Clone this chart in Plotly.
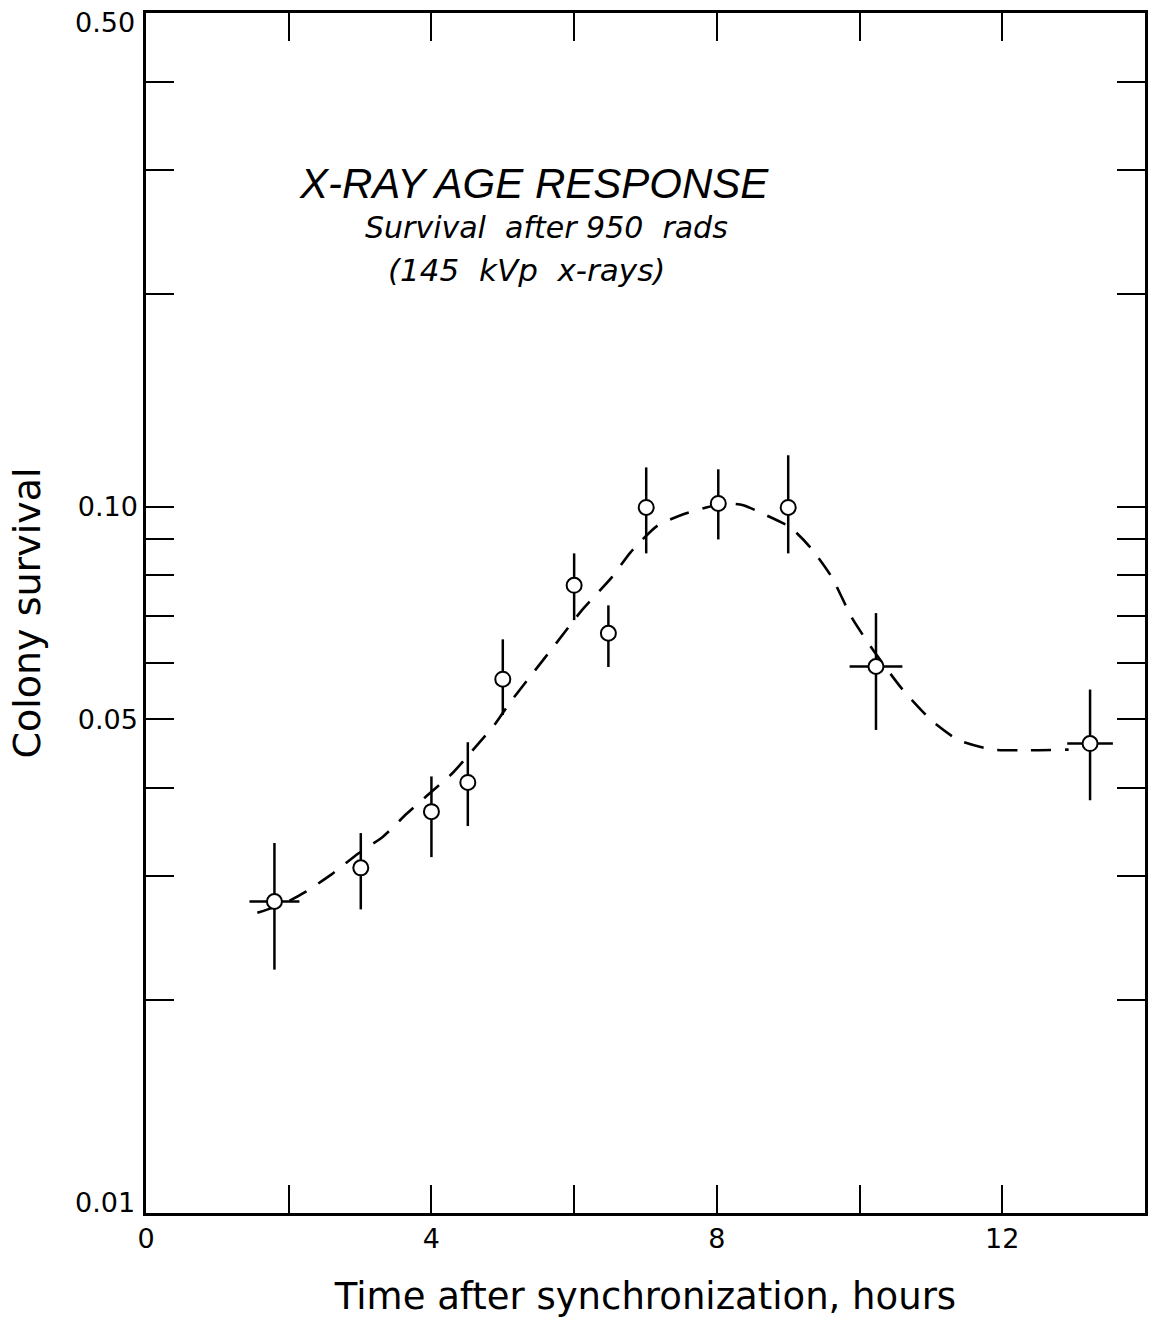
import math
import plotly.graph_objects as go

# Measured colony survival after 950 rads (145 kVp x-rays)
time_h = [1.80, 3.01, 4.00, 4.51, 5.00, 6.00, 6.48, 7.01, 8.02, 9.00, 10.23, 13.23]
survival = [0.0276, 0.0308, 0.0370, 0.0407, 0.0570, 0.0774, 0.0662, 0.0998, 0.1011, 0.0998, 0.0594, 0.0462]
err_hi = [0.0334, 0.0345, 0.0415, 0.0464, 0.0649, 0.0859, 0.0725, 0.1137, 0.1130, 0.1183, 0.0707, 0.0551]
err_lo = [0.0221, 0.0269, 0.0319, 0.0353, 0.0507, 0.0691, 0.0593, 0.0859, 0.0899, 0.0859, 0.0483, 0.0384]
time_err = [0.35, 0, 0, 0, 0, 0, 0, 0, 0, 0, 0.37, 0.32]

# Hand-drawn age-response curve
curve_t = [1.56, 1.80, 2.02, 2.24, 2.59, 2.98, 3.32, 3.66, 3.94, 4.29, 4.61, 4.89,
           5.10, 5.42, 5.75, 6.11, 6.53, 6.79, 7.16, 7.53, 7.85, 8.12, 8.37, 8.69,
           9.03, 9.31, 9.61, 9.89, 10.16, 10.59, 11.01, 11.39, 11.86, 12.37, 12.93]
curve_s = [0.0266, 0.0271, 0.0277, 0.0285, 0.0301, 0.0323, 0.0341, 0.0368, 0.0390, 0.0419,
           0.0456, 0.0492, 0.0528, 0.0581, 0.0641, 0.0714, 0.0795, 0.0862, 0.0939, 0.0976,
           0.0998, 0.1011, 0.1005, 0.0973, 0.0935, 0.0876, 0.0795, 0.0697, 0.0633, 0.0553,
           0.0498, 0.0467, 0.0453, 0.0452, 0.0453]

x_tickvals = [0, 2, 4, 6, 8, 10, 12]
x_ticktext = ["0", "", "4", "", "8", "", "12"]
y_tickvals = [0.5, 0.4, 0.3, 0.2, 0.1, 0.09, 0.08, 0.07, 0.06, 0.05, 0.04, 0.03, 0.02, 0.01]
y_ticktext = ["", "", "", "", "0.10", "", "", "", "", "0.05", "", "", "", ""]
# end-of-axis labels, set just inside the frame corners
y_end_vals = [0.5, 0.01]
y_end_text = ["0.50", "0.01"]
y_end_shift = [-9, 10]

fig = go.Figure()

fig.add_trace(go.Scatter(
    x=curve_t, y=curve_s, mode="lines",
    line=dict(color="black", width=2.6, dash="20px,14px", shape="spline", smoothing=0.6),
    hoverinfo="skip", showlegend=False,
))

fig.add_trace(go.Scatter(
    x=time_h, y=survival, mode="markers",
    marker=dict(symbol="circle", size=15, color="white", line=dict(color="black", width=2)),
    error_y=dict(type="data", symmetric=False,
                 array=[h - s for h, s in zip(err_hi, survival)],
                 arrayminus=[s - l for s, l in zip(survival, err_lo)],
                 color="black", thickness=2.5, width=0),
    error_x=dict(type="data", array=time_err, color="black", thickness=2.5, width=0),
    showlegend=False,
))

tick_font = dict(family="DejaVu Sans", size=27, color="black")

fig.update_xaxes(
    range=[0, 14], showgrid=False, zeroline=False, automargin=False,
    showline=True, linecolor="black", linewidth=2.5, mirror="ticks",
    ticks="inside", ticklen=28, tickwidth=2.2, tickcolor="black",
    tickvals=x_tickvals, ticktext=x_ticktext, tickfont=tick_font,
    ticklabeloverflow="allow",
    title=dict(text="Time after synchronization, hours",
               font=dict(family="DejaVu Sans", size=37, color="black"), standoff=30),
)
fig.update_yaxes(
    type="log", range=[-2.0003, -0.3006], showgrid=False, zeroline=False, automargin=False,
    showline=True, linecolor="black", linewidth=2.5, mirror="ticks",
    ticks="inside", ticklen=28, tickwidth=2.2, tickcolor="black",
    tickvals=y_tickvals, ticktext=y_ticktext, tickfont=tick_font,
    ticklabeloverflow="allow",
    title=dict(text="Colony survival",
               font=dict(family="DejaVu Sans", size=38, color="black"), standoff=26),
)

for val, txt, shift in zip(y_end_vals, y_end_text, y_end_shift):
    fig.add_annotation(text=txt, xref="paper", yref="y", x=0, y=math.log10(val),
                       xanchor="right", yanchor="middle", xshift=-9, yshift=shift,
                       showarrow=False, font=tick_font)

fig.add_annotation(text="X-RAY AGE RESPONSE", xref="paper", yref="paper",
                   x=0.388, y=0.858, xanchor="center", yanchor="middle", showarrow=False,
                   font=dict(family="Liberation Sans", size=42, color="black", style="italic"))
fig.add_annotation(text="Survival  after 950  rads", xref="paper", yref="paper",
                   x=0.401, y=0.821, xanchor="center", yanchor="middle", showarrow=False,
                   font=dict(family="DejaVu Sans", size=30, color="black", style="italic"))
fig.add_annotation(text="(145  kVp  x-rays)", xref="paper", yref="paper",
                   x=0.381, y=0.786, xanchor="center", yanchor="middle", showarrow=False,
                   font=dict(family="DejaVu Sans", size=31, color="black", style="italic"))

fig.update_layout(
    width=1152, height=1324,
    margin=dict(l=146, r=7, t=13, b=111, autoexpand=False),
    paper_bgcolor="white", plot_bgcolor="white",
)

fig.write_html("out.html")
